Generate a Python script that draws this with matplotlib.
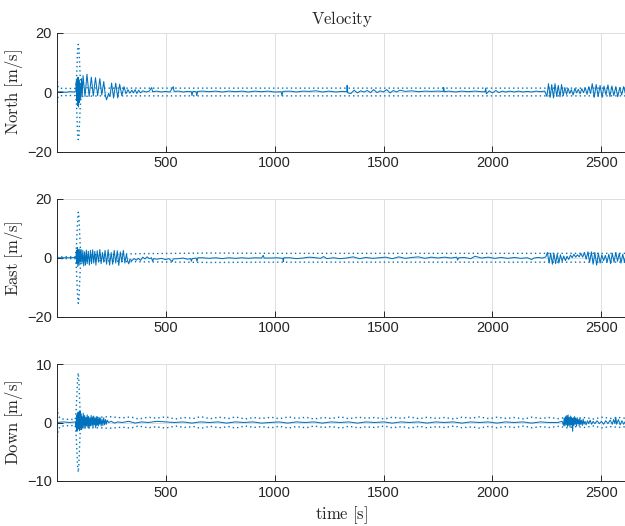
import numpy as np
import matplotlib
matplotlib.use("Agg")
import matplotlib.pyplot as plt

# MATLAB-ish look
plt.rcParams['font.family'] = ['Liberation Sans', 'DejaVu Sans']
plt.rcParams['mathtext.fontset'] = 'cm'

BLUE = '#0072BD'
DARK = '#262626'

# solid lines: (time [s], velocity [m/s])
north = [
    (0, 0), (20, 0.1), (40, -0.1), (60, 0.1), (80, 0), (88, 0.3),
    (90, 3.5), (92, -3), (94, 4.5), (96, -4.5), (98, 5), (100, -5), (102, 4), (104, -3.5),
    (107, 3), (110, -2.5), (114, 4.5), (117, -1.5), (121, 5.5), (130, -1.5), (139, 6),
    (149, -1.5), (159, 5), (168, -1.3), (178, 4.8), (188, -1.2), (198, 4.5), (207, -1),
    (216, 3.5), (223, -1), (229, -2.6), (238, -0.5), (245, -1.5), (252, 3), (261, -2),
    (271, 3), (280, -2), (289, 2.6), (299, -1.2), (309, 1.8), (318, -0.6), (327, 0.8),
    (336, -0.4), (345, 0.6), (352, -0.3), (360, 0.8), (368, -0.5), (376, 0.6), (385, -0.3),
    (395, 0.4), (410, 0), (425, 0.3), (436, 1.5), (440, 0.1), (460, 0.3), (480, 0), (500, 0.2),
    (520, 0), (535, 1.8), (539, 0.2), (560, 0.3), (580, 0), (600, 0.2), (618, 0.1), (621, -1.2),
    (625, 0.2), (640, 0.1), (643, -1.2), (647, 0.2), (670, 0.3), (700, 0.1), (730, 0.3),
    (760, 0), (790, 0.3), (820, 0.1), (850, 0.3), (880, 0), (910, 0.3), (940, 0.1), (970, 0.3),
    (1000, 0), (1030, 0.1), (1034, -1.2), (1038, 0.2), (1070, 0.3), (1100, 0), (1130, 0.3),
    (1160, 0.2), (1190, 0.4), (1220, 0), (1250, 0.3), (1280, 0), (1310, 0.2), (1331, 0.1),
    (1333, 2.2), (1336, -0.3), (1350, -0.5), (1365, 0.6), (1380, -0.3), (1395, 0.4), (1410, 0),
    (1425, 0.5), (1440, -0.2), (1455, 0.8), (1470, -0.2), (1485, 0.4), (1500, 0), (1515, 0.8),
    (1530, -0.3), (1545, 0.5), (1560, 0), (1575, 0.6), (1600, 0.2), (1630, 0.4), (1660, 0.1),
    (1690, 0.3), (1720, 0.2), (1750, 0.3), (1774, 0.2), (1776, 1.5), (1779, 0.1), (1800, 0.3),
    (1830, 0), (1860, 0.3), (1890, 0.1), (1920, 0.3), (1950, 0.1), (1966, 0.1), (1969, 1.3),
    (1972, -0.6), (1985, 0.4), (2000, -0.3), (2015, 0.5), (2030, -0.2), (2045, 0.3), (2060, 0),
    (2080, 0.3), (2100, 0), (2120, 0.3), (2140, 0), (2160, 0.2), (2180, 0), (2200, 0.3),
    (2220, 0.1), (2240, 0.3), (2250, -1.5), (2257, 2.8), (2265, -1.8), (2272, 2.5),
    (2280, -2), (2287, 2.8), (2295, -1.5), (2302, 2.2), (2310, -1.6), (2317, 2.5), (2325, -1.2),
    (2332, 1.5), (2340, -0.8), (2347, 1.2), (2355, -0.5), (2362, 0.8), (2370, -1), (2378, 1.2),
    (2386, -0.3), (2394, 0.9), (2402, -0.6), (2410, 1.1), (2418, -0.2), (2426, 1.4),
    (2434, -0.8), (2442, 1.8), (2450, -0.5), (2458, 2.8), (2467, -1.8), (2476, 2.5),
    (2485, -1.5), (2494, 2.2), (2503, -1.8), (2512, 2), (2521, -1), (2530, 2.4), (2539, -1.5),
    (2548, 2), (2557, -1.2), (2566, 1.8), (2575, -1.6), (2584, 1.5), (2593, -1), (2602, 1.8),
    (2610, -0.5), (2616, 0.8),
]

east = [
    (0, 0), (30, 0), (60, 0), (88, 0.1), (91, 2.5), (93, -2), (95, 3.5), (97, -3), (100, 2.8),
    (103, -2.5), (106, 3), (109, -1.5), (112, 2.8), (116, -2), (120, 2.5), (124, -2.8), (128, 2),
    (132, -2.5), (136, 2.6), (140, -2), (145, 2.2), (150, -2.5), (155, 2.5), (160, -2),
    (165, 2.7), (170, -1.8), (175, 2.2), (180, -2.5), (186, 2.4), (192, -1.5), (198, 2.8),
    (204, -2), (210, 1.8), (216, -1.5), (222, 2.5), (229, -2.2), (236, 2.7), (243, -2.5),
    (250, 1.8), (257, -2.2), (264, 2.5), (271, -1.8), (278, 2.4), (285, -2.6), (292, 2),
    (299, -1.5), (306, 2.5), (313, -1.8), (320, 1.2), (326, -1.2), (331, -2.1), (336, -0.5),
    (345, -1), (355, -0.3), (365, -0.8), (375, -0.2), (385, -0.9), (395, 0.2), (405, -0.4),
    (415, 0.3), (425, -0.3), (435, 0), (440, -1.2), (445, -0.3), (460, -0.5), (480, -0.2),
    (500, -0.6), (515, -0.3), (530, -1.3), (535, -0.4), (560, -0.3), (580, -0.1), (600, -0.5),
    (615, -0.3), (618, -1.2), (622, -0.3), (640, -0.1), (644, -1.2), (648, 0), (670, 0),
    (700, -0.2), (730, 0), (760, -0.3), (790, 0), (820, -0.2), (850, 0), (880, -0.2), (910, 0),
    (940, -0.1), (948, 0.8), (952, -0.1), (980, -0.1), (1010, 0), (1038, -0.2), (1040, -1.3),
    (1043, 0), (1070, 0), (1100, -0.3), (1130, -0.1), (1160, 0.2), (1190, 0), (1210, -0.2),
    (1225, 0.4), (1240, -0.3), (1270, 0), (1300, -0.3), (1330, -0.1), (1360, 0.3), (1390, -0.3),
    (1420, 0.1), (1450, -0.2), (1480, 0), (1510, 0.2), (1540, -0.3), (1570, 0.3), (1600, -0.2),
    (1630, 0.1), (1660, 0.3), (1690, -0.2), (1720, 0.2), (1750, -0.1), (1780, 0.2), (1810, -0.1),
    (1836, 0.2), (1840, -0.8), (1845, 0), (1870, 0.1), (1900, -0.3), (1920, 0.5), (1950, -0.1),
    (1980, 0.2), (2010, -0.2), (2040, 0.1), (2070, -0.2), (2100, 0.1), (2130, -0.2), (2160, 0),
    (2180, -0.6), (2190, -0.1), (2210, 0.1), (2230, -0.1), (2245, 0.3), (2252, 1.8),
    (2260, -1.8), (2267, 1.6), (2275, -2.2), (2282, 1.5), (2290, -2), (2297, 1.2), (2305, -1.8),
    (2312, 1), (2320, -1.2), (2327, 0.6), (2335, -1), (2342, 0.5), (2350, -0.6), (2358, 0.9),
    (2366, 0), (2374, 1.2), (2382, 0.2), (2390, 1), (2398, 0.3), (2406, 1.5), (2414, 0.2),
    (2422, 1.8), (2430, -0.5), (2438, 2), (2446, -1.5), (2454, 2), (2462, -2.2), (2470, 1.8),
    (2478, -2.5), (2486, 1.5), (2494, -1.8), (2502, 1), (2510, -1), (2518, 0.8), (2526, -1.5),
    (2534, 1.2), (2542, -2), (2550, 1.5), (2558, -1.5), (2566, 1.8), (2574, -1.2), (2582, 1.5),
    (2590, -1.8), (2598, 1.2), (2606, -1.5), (2612, 0.8), (2616, 0),
]

down = [
    (0, 0), (30, 0.1), (60, 0), (86, 0.1), (89, -0.8), (91, 1.2), (93, -1.5), (95, 1.6),
    (97, -1.2), (99, 1.8), (101, -1), (103, 1.3), (105, -1.4), (107, 2), (109, -0.8), (111, 1.5),
    (113, -1.2), (116, 1), (119, -1), (122, 1.6), (125, -0.7), (128, 1.2), (131, -1), (134, 0.9),
    (137, -0.6), (140, 1.3), (143, -0.8), (146, 1), (149, -1), (152, 0.8), (155, -0.6),
    (158, 1.2), (161, -0.5), (164, 0.9), (167, -0.8), (170, 1.1), (173, -0.4), (176, 0.8),
    (179, -0.9), (182, 1), (185, -0.5), (188, 0.7), (191, -0.6), (194, 0.9), (197, -0.3),
    (200, 0.8), (204, -0.6), (208, 0.6), (212, -0.5), (216, 0.8), (220, -0.4), (224, 0.5),
    (228, -0.3), (232, 0.4), (238, 0), (250, 0.2), (265, -0.1), (280, 0.1), (300, 0),
    (330, 0.2), (360, -0.1), (390, 0.1), (420, 0), (460, 0.2), (500, 0.1), (540, 0), (580, 0.1),
    (620, -0.1), (660, 0.1), (700, 0), (740, 0.1), (780, -0.1), (820, 0.1), (860, 0), (900, 0.1),
    (940, -0.1), (980, 0), (1020, 0.1), (1060, -0.1), (1100, 0.1), (1140, 0), (1180, 0.1),
    (1220, -0.1), (1260, 0.1), (1300, 0), (1340, 0.1), (1380, -0.1), (1420, 0.1), (1460, 0),
    (1500, 0.1), (1540, -0.1), (1580, 0.1), (1620, 0), (1660, 0.1), (1700, -0.1), (1740, 0.1),
    (1780, 0), (1820, 0.1), (1860, -0.1), (1900, 0.1), (1940, 0), (1980, 0.1), (2020, -0.1),
    (2060, 0.1), (2100, 0), (2140, 0.1), (2180, -0.1), (2220, 0.1), (2260, 0), (2300, 0),
    (2320, 0.2), (2326, -0.5), (2329, 0.8), (2332, -0.6), (2335, 1), (2338, -0.4), (2341, 1.2),
    (2344, -0.7), (2347, 1.3), (2350, -0.5), (2353, 0.9), (2356, -0.8), (2359, 1.1),
    (2362, -0.4), (2365, 0.7), (2368, -1.5), (2371, 0.8), (2374, -0.5), (2377, 1), (2380, -0.3),
    (2383, 0.6), (2386, -0.6), (2389, 0.8), (2392, -0.2), (2395, 0.5), (2398, -0.6), (2401, 0.7),
    (2404, -0.3), (2408, 0.4), (2412, -0.5), (2416, 0.6), (2420, -0.3), (2425, 0.2),
    (2430, -0.4), (2436, 0.3), (2442, -0.2), (2448, 0.4), (2455, -0.3), (2462, 0.2),
    (2470, -0.2), (2480, 0.3), (2490, -0.2), (2500, 0.2), (2510, -0.3), (2520, 0.3),
    (2530, -0.2), (2540, 0.4), (2550, -0.3), (2556, 0.5), (2562, -0.2), (2566, 0.9),
    (2570, -0.3), (2578, 0.5), (2586, -0.4), (2594, 0.3), (2602, -0.3), (2610, 0.2), (2616, 0),
]

# dotted envelopes (plotted as +/-)
north_sig = [
    (0, 8), (3, 4), (6, 1.8), (10, 1.3), (30, 1.2), (60, 1.2), (85, 1.2), (90, 3), (93, 8),
    (96, 14), (99, 16), (102, 15), (105, 10), (108, 5), (111, 2), (115, 1.5), (150, 1.4),
    (200, 1.3), (300, 1.3), (2616, 1.3),
]
east_sig = [
    (0, 0.3), (85, 0.3), (90, 3), (93, 8), (96, 13), (99, 15.5), (102, 14), (105, 9), (108, 4),
    (111, 1), (200, 1), (330, 1.3), (400, 1.4), (700, 1.6), (1000, 1.5), (2616, 1.5),
]
down_sig = [
    (0, 4), (3, 2.5), (6, 1.5), (10, 1), (20, 0.6), (85, 0.5), (89, 2), (93, 5), (96, 7.5),
    (99, 8.5), (102, 7), (105, 4), (108, 1.5), (112, 0.9), (200, 0.9), (240, 1), (300, 0.8),
    (340, 0.95), (375, 0.6), (420, 0.9), (455, 0.75), (500, 0.95), (545, 0.6), (585, 0.85),
    (630, 0.7), (660, 1.0), (705, 0.65), (745, 0.9), (790, 0.7), (820, 0.95), (865, 0.6),
    (905, 0.85), (940, 0.7), (985, 0.9), (1020, 0.65), (1065, 0.95), (1100, 0.7), (1145, 0.9),
    (1180, 0.6), (1225, 0.85), (1260, 0.7), (1305, 0.95), (1340, 0.65), (1385, 0.9),
    (1420, 0.75), (1460, 0.85), (1505, 0.6), (1540, 0.9), (1585, 0.7), (1620, 0.95),
    (1665, 0.65), (1700, 0.9), (1745, 0.7), (1780, 0.85), (1825, 0.6), (1860, 0.9),
    (1905, 0.75), (1940, 0.95), (1985, 0.65), (2020, 0.9), (2065, 0.7), (2100, 0.85),
    (2145, 0.6), (2180, 0.9), (2225, 0.7), (2260, 0.85), (2305, 0.65), (2340, 0.9),
    (2385, 0.7), (2420, 0.85), (2465, 0.6), (2500, 0.9), (2545, 0.7), (2580, 0.85), (2616, 0.7),
]

labels = ['North', 'East', 'Down']
ylims = [20, 20, 10]
xticks = [500, 1000, 1500, 2000, 2500]

fig = plt.figure(figsize=(6.25, 5.26), dpi=100)
rects = [
    [0.0907, 1 - 151.5 / 526, 0.912, 119 / 526],
    [0.0907, 1 - 316.5 / 526, 0.912, 117.5 / 526],
    [0.0907, 1 - 481 / 526, 0.912, 117 / 526],
]

for i, (vel, sig) in enumerate([(north, north_sig), (east, east_sig), (down, down_sig)]):
    ax = fig.add_axes(rects[i])
    t, v = np.array(vel, dtype=float).T
    st, s = np.array(sig, dtype=float).T
    ax.plot(t, v, '-', color=BLUE, lw=0.75)
    ax.plot(st, s, color=BLUE, lw=1.0, dashes=(1, 2.2))
    ax.plot(st, -s, color=BLUE, lw=1.0, dashes=(1, 2.2))

    ax.set_xlim(0, 2616)
    ax.set_ylim(-ylims[i], ylims[i])
    ax.set_xticks(xticks)
    ax.set_yticks([-ylims[i], 0, ylims[i]])
    ax.grid(True, color='#dedede', lw=0.7)
    ax.set_axisbelow(True)
    for side in ['top', 'right']:
        ax.spines[side].set_visible(False)
    for side in ['left', 'bottom']:
        ax.spines[side].set_color(DARK)
        ax.spines[side].set_linewidth(0.7)
    ax.tick_params(direction='in', length=4, width=0.7, color=DARK,
                   labelcolor=DARK, labelsize=10.5)
    ax.set_ylabel(r'$\mathrm{%s\ [m/s]}$' % labels[i], fontsize=12, color=DARK)
    ax.yaxis.set_label_coords(-0.056, 0.5)

    if i == 0:
        ax.set_title(r'$\mathrm{Velocity}$', fontsize=12, color=DARK, pad=6)
    if i == 2:
        ax.set_xlabel(r'$\mathrm{time\ [s]}$', fontsize=12, color=DARK)
        ax.xaxis.set_label_coords(0.5, -0.2)

fig.savefig('out.png', dpi=100)
